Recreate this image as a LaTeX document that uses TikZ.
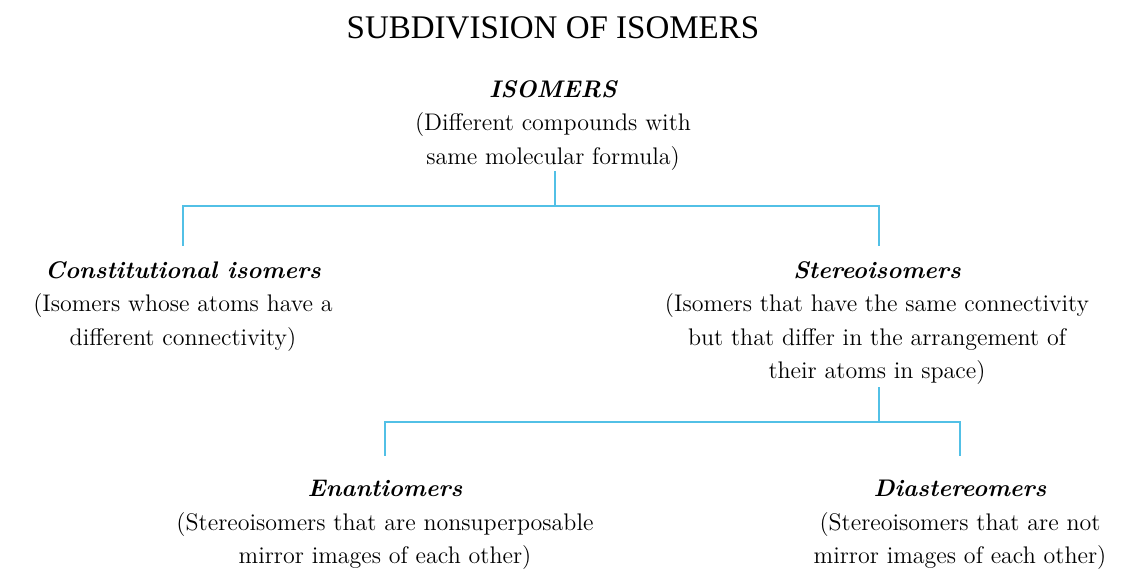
\documentclass[tikz,border=0pt]{standalone}
\usepackage{fontspec}
\newfontfamily\titlefont{Liberation Serif}
\definecolor{linkblue}{RGB}{82,192,230}
\tikzset{
  block/.style={align=center, inner sep=0pt, anchor=north,
    font=\fontsize{12.0}{16.75}\selectfont},
  conn/.style={draw=linkblue, line width=1.2pt, line cap=rect},
  headtitle/.style={inner sep=0pt, anchor=base, font=\titlefont\fontsize{16.5}{20}\selectfont}
}
\newcommand{\hd}[1]{{\bfseries\itshape #1}}
\begin{document}
\begin{tikzpicture}[x=0.5pt,y=-0.5pt]
\useasboundingbox (0,0) rectangle (1130,570);
\node[headtitle] (title) at (553,38) {SUBDIVISION OF ISOMERS};
\node[block] (iso) at (553,80) {\hd{ISOMERS}\\(Different compounds with\\same molecular formula)};
\node[block] (cons) at (183,261) {\hd{Constitutional isomers}\\(Isomers whose atoms have a\\different connectivity)};
\node[block] (stereo) at (877,261) {\hd{Stereoisomers}\\(Isomers that have the same connectivity\\but that differ in the arrangement of\\their atoms in space)};
\node[block] (enan) at (385,480) {\hd{Enantiomers}\\(Stereoisomers that are nonsuperposable\\mirror images of each other)};
\node[block] (dia) at (960,480) {\hd{Diastereomers}\\(Stereoisomers that are not\\mirror images of each other)};
\coordinate (j1) at (555,206);
\coordinate (top1) at (555,172);
\coordinate (legL1) at (183,245);
\coordinate (legR1) at (879,245);
\coordinate (j2) at (879,422);
\coordinate (top2) at (879,388);
\coordinate (legL2) at (385,455);
\coordinate (legR2) at (960,455);
\draw[conn] (top1) -- (j1);
\draw[conn] (legL1) |- (j1) -| (legR1);
\draw[conn] (top2) -- (j2);
\draw[conn] (legL2) |- (j2) -| (legR2);
\end{tikzpicture}
\end{document}
